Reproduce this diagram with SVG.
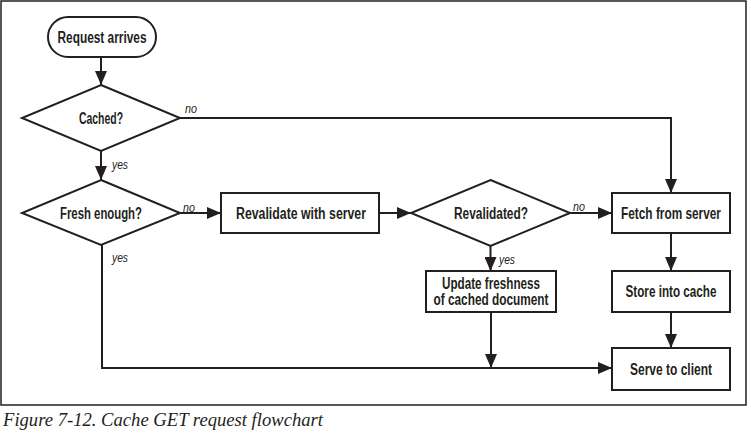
<svg xmlns="http://www.w3.org/2000/svg" width="751" height="435" viewBox="0 0 751 435">
<style>
.shape{fill:#fff;stroke:#231f20;stroke-width:2}
.lbl{font-family:"Liberation Sans","Arial",sans-serif;font-weight:bold;font-size:16px;fill:#231f20;text-anchor:middle;dominant-baseline:central}
.note{font-family:"Liberation Sans","Arial",sans-serif;font-style:italic;font-size:13px;fill:#231f20;dominant-baseline:central}
.conn{fill:none;stroke:#231f20;stroke-width:2}
.cap{font-family:"Liberation Serif","DejaVu Serif",serif;font-style:italic;font-size:18px;fill:#231f20}
</style>
<defs>
<marker id="arr" viewBox="0 0 14 12" refX="14" refY="6" markerWidth="14" markerHeight="12" markerUnits="userSpaceOnUse" orient="auto">
<path d="M0,0 L14,6 L0,12 Z" fill="#231f20"/>
</marker>
</defs>
<rect x="1" y="1" width="745" height="404" fill="#fff" stroke="#231f20" stroke-width="1.5"/>
<g id="connectors">
<path class="conn" marker-end="url(#arr)" d="M101,57 V85"/>
<path class="conn" marker-end="url(#arr)" d="M101,151 V180"/>
<path class="conn" marker-end="url(#arr)" d="M180,118 H671 V193"/>
<path class="conn" marker-end="url(#arr)" d="M180,213 H221"/>
<path class="conn" marker-end="url(#arr)" d="M379,213 H411"/>
<path class="conn" marker-end="url(#arr)" d="M570,213 H612"/>
<path class="conn" marker-end="url(#arr)" d="M490.5,246 V271"/>
<path class="conn" marker-end="url(#arr)" d="M671,233 V271"/>
<path class="conn" marker-end="url(#arr)" d="M671,312 V348"/>
<path class="conn" marker-end="url(#arr)" d="M491,312 V368"/>
<path class="conn" marker-end="url(#arr)" d="M102,245 V368 H612"/>
<text class="note" x="185" y="108" textLength="12" lengthAdjust="spacingAndGlyphs">no</text>
<text class="note" x="112" y="164" textLength="16" lengthAdjust="spacingAndGlyphs">yes</text>
<text class="note" x="183" y="207" textLength="12" lengthAdjust="spacingAndGlyphs">no</text>
<text class="note" x="112" y="257" textLength="16" lengthAdjust="spacingAndGlyphs">yes</text>
<text class="note" x="573" y="206" textLength="12" lengthAdjust="spacingAndGlyphs">no</text>
<text class="note" x="499" y="259" textLength="16" lengthAdjust="spacingAndGlyphs">yes</text>
</g>
<g id="request-arrives">
<rect class="shape" x="48" y="17" width="108" height="40" rx="20"/>
<text class="lbl" x="102" y="37" textLength="89" lengthAdjust="spacingAndGlyphs">Request arrives</text>
</g>
<g id="cached">
<polygon class="shape" points="101,85 180,118 101,151 22,118"/>
<text class="lbl" x="101" y="118" textLength="44" lengthAdjust="spacingAndGlyphs">Cached?</text>
</g>
<g id="fresh-enough">
<polygon class="shape" points="101,180 180,213 101,245 22,213"/>
<text class="lbl" x="101" y="213" textLength="82" lengthAdjust="spacingAndGlyphs">Fresh enough?</text>
</g>
<g id="revalidate">
<rect class="shape" x="221" y="193" width="158" height="40"/>
<text class="lbl" x="301" y="213" textLength="130" lengthAdjust="spacingAndGlyphs">Revalidate with server</text>
</g>
<g id="revalidated">
<polygon class="shape" points="490.5,180 570,213 490.5,246 411,213"/>
<text class="lbl" x="491" y="213" textLength="74" lengthAdjust="spacingAndGlyphs">Revalidated?</text>
</g>
<g id="fetch">
<rect class="shape" x="612" y="193" width="118" height="40"/>
<text class="lbl" x="0" y="0" transform="translate(671,213) scale(0.74,1)">Fetch from server</text>
</g>
<g id="update">
<rect class="shape" x="426" y="271" width="130" height="41"/>
<text class="lbl" x="491" y="283" textLength="98" lengthAdjust="spacingAndGlyphs">Update freshness</text>
<text class="lbl" x="491" y="299" textLength="115" lengthAdjust="spacingAndGlyphs">of cached document</text>
</g>
<g id="store">
<rect class="shape" x="612" y="271" width="118" height="41"/>
<text class="lbl" x="671" y="291" textLength="91" lengthAdjust="spacingAndGlyphs">Store into cache</text>
</g>
<g id="serve">
<rect class="shape" x="612" y="348" width="118" height="42"/>
<text class="lbl" x="671" y="369" textLength="82" lengthAdjust="spacingAndGlyphs">Serve to client</text>
</g>
<text class="cap" x="3" y="426" textLength="320" lengthAdjust="spacingAndGlyphs">Figure 7-12. Cache GET request flowchart</text>
</svg>
